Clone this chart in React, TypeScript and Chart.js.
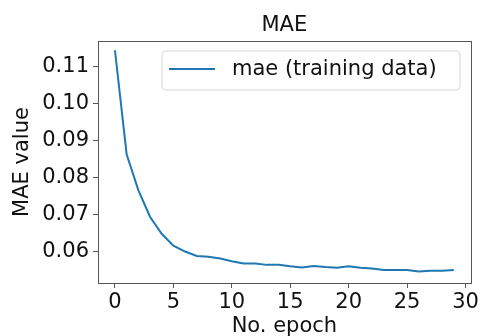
import React, { useEffect, useRef } from "react";
import { Chart, registerables } from "chart.js";

Chart.register(...registerables);

const epochs = [0, 1, 2, 3, 4, 5, 6, 7, 8, 9, 10, 11, 12, 13, 14, 15, 16, 17, 18, 19, 20, 21, 22, 23, 24, 25, 26, 27, 28, 29];
const maeValues = [
  0.1145, 0.0864, 0.0767, 0.0695, 0.0649, 0.0617, 0.0601, 0.0589, 0.0587, 0.0582,
  0.0575, 0.0569, 0.0569, 0.0565, 0.0565, 0.0561, 0.0558, 0.0562, 0.0559, 0.0557,
  0.0561, 0.0557, 0.0555, 0.0551, 0.0551, 0.0551, 0.0547, 0.0549, 0.0549, 0.0551,
];
const xTicks = [0, 5, 10, 15, 20, 25, 30];
const yTicks = [0.06, 0.07, 0.08, 0.09, 0.1, 0.11];
const seriesLabel = "mae (training data)";
const titleText = "MAE";
const xLabel = "No. epoch";
const yLabel = "MAE value";

const FONT = "'DejaVu Sans', sans-serif";
const BLUE = "#1f77b4";

const framePlugin = {
  id: "frame",
  afterDraw(chart: any) {
    const { ctx, chartArea } = chart;
    ctx.save();
    ctx.strokeStyle = "#555";
    ctx.lineWidth = 1;
    ctx.strokeRect(
      Math.round(chartArea.left) + 0.5,
      Math.round(chartArea.top) + 0.5,
      Math.round(chartArea.right - chartArea.left),
      Math.round(chartArea.bottom - chartArea.top)
    );
    // title centered over plot area
    ctx.fillStyle = "#111";
    ctx.font = `21px ${FONT}`;
    ctx.textBaseline = "middle";
    ctx.textAlign = "center";
    ctx.fillText(titleText, (chartArea.left + chartArea.right) / 2, 26);
    // legend
    const ds = chart.data.datasets[0];
    const x0 = 162, y0 = 51, w = 298, h = 39, r = 4;
    ctx.beginPath();
    ctx.moveTo(x0 + r, y0);
    ctx.arcTo(x0 + w, y0, x0 + w, y0 + h, r);
    ctx.arcTo(x0 + w, y0 + h, x0, y0 + h, r);
    ctx.arcTo(x0, y0 + h, x0, y0, r);
    ctx.arcTo(x0, y0, x0 + w, y0, r);
    ctx.closePath();
    ctx.fillStyle = "rgba(255,255,255,0.8)";
    ctx.fill();
    ctx.strokeStyle = "#d6d6d6";
    ctx.stroke();
    ctx.beginPath();
    ctx.strokeStyle = ds.borderColor;
    ctx.lineWidth = 2;
    ctx.moveTo(169, 69);
    ctx.lineTo(215, 69);
    ctx.stroke();
    ctx.fillStyle = "#111";
    ctx.textAlign = "left";
    ctx.fillText(ds.label, 232, 70);
    ctx.restore();
  },
};

export default function App() {
  const ref = useRef<HTMLCanvasElement>(null);
  useEffect(() => {
    const chart = new Chart(ref.current!, {
      type: "line",
      data: {
        datasets: [
          {
            label: seriesLabel,
            data: epochs.map((e, i) => ({ x: e, y: maeValues[i] })),
            borderColor: BLUE,
            borderWidth: 2,
            pointRadius: 0,
            tension: 0,
            fill: false,
          },
        ],
      },
      options: {
        animation: false,
        responsive: false,
        layout: { padding: { left: 0, right: 10, top: 41, bottom: 0 } },
        plugins: {
          legend: { display: false },
          tooltip: { enabled: false },
          title: { display: false },
        },
        scales: {
          x: {
            type: "linear",
            min: -1.45,
            max: 30.45,
            afterBuildTicks: (s: any) => {
              s.ticks = xTicks.map((v) => ({ value: v }));
            },
            afterFit: (s: any) => {
              s.height = 53;
            },
            ticks: {
              color: "#111",
              font: { family: FONT, size: 21 },
              padding: 2,
              maxRotation: 0,
              autoSkip: false,
              includeBounds: false,
              callback: (v: any) => String(v),
            },
            grid: {
              display: true,
              drawOnChartArea: false,
              drawTicks: true,
              tickLength: 5,
              color: "#555",
            },
            border: { display: false },
            title: {
              display: true,
              text: xLabel,
              color: "#111",
              font: { family: FONT, size: 21 },
              padding: { top: 0, bottom: -3 },
            },
          },
          y: {
            type: "linear",
            min: 0.0516,
            max: 0.117,
            afterBuildTicks: (s: any) => {
              s.ticks = yTicks.map((v) => ({ value: v }));
            },
            afterFit: (s: any) => {
              s.width = 98;
            },
            ticks: {
              color: "#111",
              font: { family: FONT, size: 21 },
              padding: 4,
              autoSkip: false,
              includeBounds: false,
              callback: (v: any) => Number(v).toFixed(2),
            },
            grid: {
              display: true,
              drawOnChartArea: false,
              drawTicks: true,
              tickLength: 5,
              color: "#555",
            },
            border: { display: false },
            title: {
              display: true,
              text: yLabel,
              color: "#111",
              font: { family: FONT, size: 21 },
              padding: { top: 10, bottom: 0 },
            },
          },
        },
      },
      plugins: [framePlugin],
    } as any);
    return () => chart.destroy();
  }, []);
  return (
    <div style={{ position: "absolute", left: 0, top: 0, width: 481, height: 336, background: "#fff" }}>
      <canvas ref={ref} width={481} height={336} style={{ display: "block" }} />
    </div>
  );
}
